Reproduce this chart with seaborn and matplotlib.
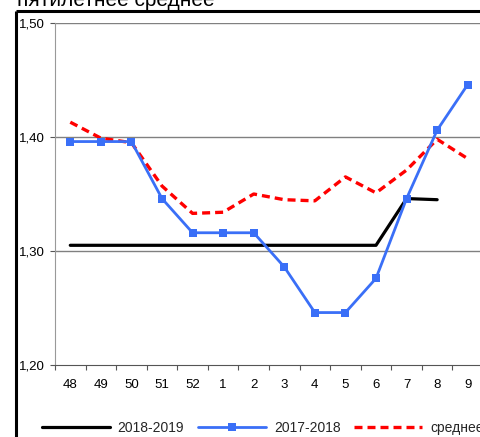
import numpy as np
import pandas as pd
import matplotlib
matplotlib.use("Agg")
import matplotlib.pyplot as plt
from matplotlib.lines import Line2D
from matplotlib.ticker import FixedLocator
import seaborn as sns

weeks = ["48", "49", "50", "51", "52", "1", "2", "3", "4", "5", "6", "7", "8", "9"]
s2018_2019 = [1.305, 1.305, 1.305, 1.305, 1.305, 1.305, 1.305, 1.305, 1.305, 1.305, 1.305, 1.346, 1.345]
s2017_2018 = [1.396, 1.396, 1.396, 1.346, 1.316, 1.316, 1.316, 1.286, 1.246, 1.246, 1.276, 1.346, 1.406, 1.446]
s_avg = [1.413, 1.399, 1.395, 1.357, 1.333, 1.334, 1.350, 1.345, 1.344, 1.365, 1.351, 1.371, 1.398, 1.381]
yticks = [1.20, 1.30, 1.40, 1.50]
ytick_labels = ["1,20", "1,30", "1,40", "1,50"]
series_names = ["2018-2019", "2017-2018", "среднее"]

sns.set_theme(style="white")
plt.rcParams["font.family"] = ["Liberation Sans", "DejaVu Sans"]

W, H = 481, 437
fig = plt.figure(figsize=(W / 100, H / 100), dpi=100)
ax = fig.add_axes([55 / W, 1 - 365 / H, 428 / W, (365 - 23) / H])

pos = np.arange(len(weeks))
d1 = pd.DataFrame({"x": pos[:len(s2018_2019)], "y": s2018_2019})
d2 = pd.DataFrame({"x": pos, "y": s2017_2018})
d3 = pd.DataFrame({"x": pos, "y": s_avg})

red_dash = (0, (2.4, 1.5))
sns.lineplot(data=d3, x="x", y="y", ax=ax, color="#ff0000", lw=2.4,
             linestyle=red_dash, zorder=3, label=series_names[2])
sns.lineplot(data=d1, x="x", y="y", ax=ax, color="black", lw=2.3, zorder=4,
             label=series_names[0])
sns.lineplot(data=d2, x="x", y="y", ax=ax, color="#3a6ff7", lw=2.0, marker="s",
             markersize=6, markeredgewidth=0, zorder=5, label=series_names[1])
ax.get_legend().remove()

ax.set_xlim(-0.5, len(weeks) - 0.5)
ax.set_ylim(1.20, 1.50)
ax.set_xlabel("")
ax.set_ylabel("")

ax.set_yticks(yticks)
ax.set_yticklabels(ytick_labels)
ax.set_xticks(pos)
ax.set_xticklabels(weeks)
ax.xaxis.set_minor_locator(FixedLocator(np.arange(-0.5, len(weeks), 1.0)))

ax.tick_params(axis="x", which="major", length=0, pad=10, labelsize=9.5, colors="black")
ax.tick_params(axis="x", which="minor", length=3.5, width=0.8, color="#555555", bottom=True)
ax.tick_params(axis="y", which="major", length=3.5, width=0.8, pad=3.5, labelsize=9.5,
               color="#555555", left=True, labelcolor="black")

for yv in yticks[1:]:
    ax.axhline(yv, color="#808080", lw=1.0, zorder=1)

for side in ["top", "right"]:
    ax.spines[side].set_visible(False)
ax.spines["left"].set_color("#999999")
ax.spines["left"].set_linewidth(0.8)
ax.spines["bottom"].set_color("#555555")
ax.spines["bottom"].set_linewidth(0.8)

# chart-area frame (left and top black border)
fig.add_artist(Line2D([16 / W, 16 / W], [0, 1 - 11 / H], color="black", lw=2.2,
                      transform=fig.transFigure, solid_capstyle="butt"))
fig.add_artist(Line2D([16 / W, 1], [1 - 11 / H, 1 - 11 / H], color="black", lw=2.2,
                      transform=fig.transFigure, solid_capstyle="butt"))

# cut-off title
fig.text(17 / W, 1 - 6 / H, "пятилетнее среднее", fontsize=15, ha="left",
         va="baseline", color="black")

handles = [
    Line2D([], [], color="black", lw=2.3),
    Line2D([], [], color="#3a6ff7", lw=2.0, marker="s", markersize=6, markeredgewidth=0),
    Line2D([], [], color="#ff0000", lw=2.4, linestyle=red_dash),
]
fig.legend(handles, series_names, loc="center left", bbox_to_anchor=(42 / W, 1 - 428 / H),
           ncol=3, frameon=False, fontsize=10, handlelength=4.9, handletextpad=0.55,
           columnspacing=1.0, borderpad=0, borderaxespad=0)

fig.savefig("out.png", dpi=100)
